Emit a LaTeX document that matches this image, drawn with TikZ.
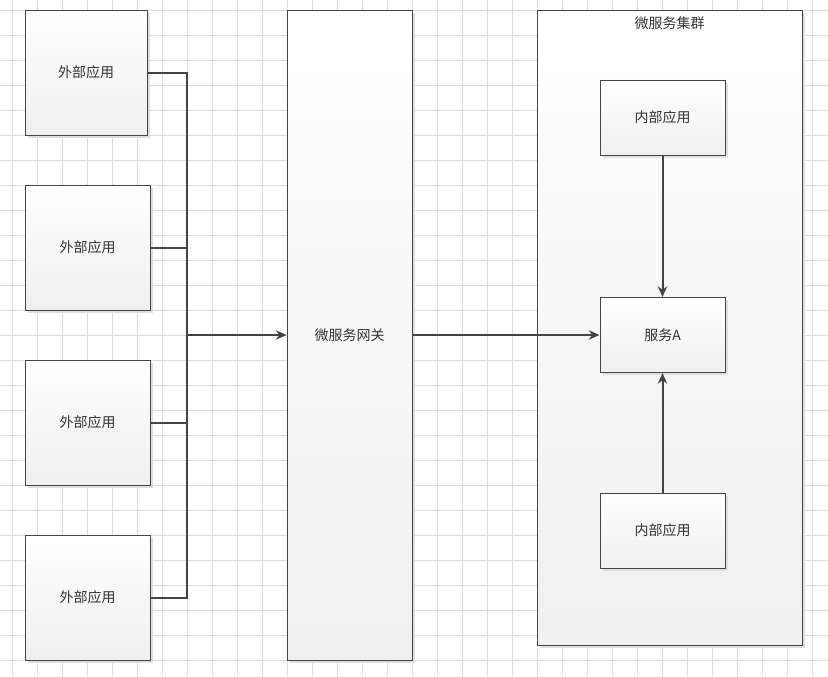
\documentclass[tikz,border=0pt]{standalone}
\usepackage{fontspec}
\newfontfamily\cjk{Noto Sans CJK SC}
\usetikzlibrary{arrows.meta, positioning, shadows}
\definecolor{lngray}{RGB}{68,68,68}
\definecolor{gridgray}{RGB}{221,221,221}
\definecolor{txtgray}{RGB}{51,51,51}

\begin{document}
\begin{tikzpicture}[x=0.75pt, y=-0.75pt, every node/.style={font=\cjk\fontsize{10.5}{12}\selectfont, text=txtgray},
  ubox/.style={draw=lngray, line width=0.75pt, inner sep=0pt, top color=white, bottom color=gray!12,
               drop shadow={shadow xshift=2.2pt, shadow yshift=-2.2pt, fill=gray!25, opacity=1}},
  conn/.style={draw=lngray, line width=1.5pt},
  tip/.style={-{Stealth[length=8pt, width=7pt]}}]
  \useasboundingbox (0,0) rectangle (828,676);
  % grid background
  \foreach \gx in {12,37,...,812} \draw[gridgray, line width=0.75pt] (\gx,0) -- (\gx,676);
  \foreach \gy in {10,35,...,660} \draw[gridgray, line width=0.75pt] (0,\gy) -- (828,\gy);

  % LEFT stack: external apps
  \node[ubox, minimum width=91.5pt, minimum height=93.75pt] (e1) at (86,72.5) {外部应用};
  \node[ubox, minimum width=93.75pt, minimum height=93.75pt] (e2) at (87.5,247.5) {外部应用};
  \node[ubox, minimum width=93.75pt, minimum height=93.75pt] (e3) at (87.5,422.5) {外部应用};
  \node[ubox, minimum width=93.75pt, minimum height=93.75pt] (e4) at (87.5,597.5) {外部应用};

  % gateway
  \node[ubox, minimum width=93.75pt, minimum height=487.5pt] (gw) at (349.5,335) {微服务网关};

  % RIGHT: cluster
  \node[ubox, minimum width=198.75pt, minimum height=476.25pt] (cl) at (669.5,327.5) {};
  \node[anchor=north] (cltitle) at (669.5,12) {微服务集群};
  \node[ubox, minimum width=93.75pt, minimum height=56.25pt] (in1) at (662.5,117.5) {内部应用};
  \node[ubox, minimum width=93.75pt, minimum height=56.25pt] (sa) at (662.5,335) {服务A};
  \node[ubox, minimum width=93.75pt, minimum height=56.25pt] (in2) at (662.5,530.5) {内部应用};

  % connectors
  \coordinate (bus) at (187,335);
  \draw[conn] (e1.east) -| (bus);
  \draw[conn] (e2.east) -| (bus);
  \draw[conn] (e3.east) -| (bus);
  \draw[conn] (e4.east) -| (bus);
  \draw[conn, tip] (bus) -- (gw.west);
  \draw[conn, tip] (gw.east) -- (sa.west);
  \draw[conn, tip] (in1.south) -- (sa.north);
  \draw[conn, tip] (in2.north) -- (sa.south);
\end{tikzpicture}
\end{document}
